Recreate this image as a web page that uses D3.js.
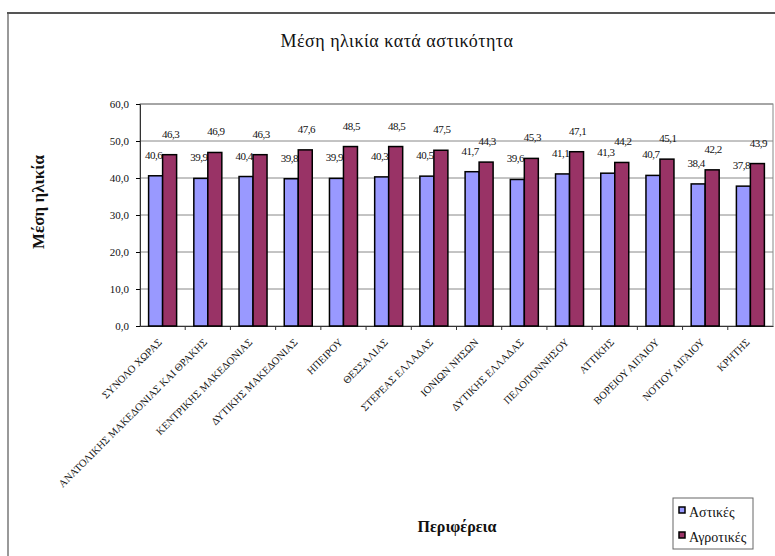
<!DOCTYPE html>
<html>
<head>
<meta charset="utf-8">
<script src="https://cdn.jsdelivr.net/npm/d3@7"></script>
<style>
  body { margin: 0; background: #fff; }
  svg text { font-family: 'Liberation Serif', 'Times New Roman', serif; fill: #111; }
</style>
</head>
<body>
<div id="chart"></div>
<script>
// regions (x axis)
var regions = ['ΣΥΝΟΛΟ ΧΩΡΑΣ', 'ΑΝΑΤΟΛΙΚΗΣ ΜΑΚΕΔΟΝΙΑΣ ΚΑΙ ΘΡΑΚΗΣ', 'ΚΕΝΤΡΙΚΗΣ ΜΑΚΕΔΟΝΙΑΣ',
  'ΔΥΤΙΚΗΣ ΜΑΚΕΔΟΝΙΑΣ', 'ΗΠΕΙΡΟΥ', 'ΘΕΣΣΑΛΙΑΣ', 'ΣΤΕΡΕΑΣ ΕΛΛΑΔΑΣ', 'ΙΟΝΙΩΝ ΝΗΣΩΝ',
  'ΔΥΤΙΚΗΣ ΕΛΛΑΔΑΣ', 'ΠΕΛΟΠΟΝΝΗΣΟΥ', 'ΑΤΤΙΚΗΣ', 'ΒΟΡΕΙΟΥ ΑΙΓΑΙΟΥ', 'ΝΟΤΙΟΥ ΑΙΓΑΙΟΥ', 'ΚΡΗΤΗΣ'];
var urban = [40.6, 39.9, 40.4, 39.8, 39.9, 40.3, 40.5, 41.7, 39.6, 41.1, 41.3, 40.7, 38.4, 37.8];
var rural = [46.3, 46.9, 46.3, 47.6, 48.5, 48.5, 47.5, 44.3, 45.3, 47.1, 44.2, 45.1, 42.2, 43.9];
var seriesNames = ['Αστικές', 'Αγροτικές'];
var yTicks = [0, 10, 20, 30, 40, 50, 60];

var colors = ['#9999ff', '#993366'];
var width = 775, height = 556;
var plotL = 140, plotR = 773, plotT = 104, plotB = 326;

var svg = d3.select('#chart').append('svg')
    .attr('width', width)
    .attr('height', height);

// outer frame: light left edge, darker top edge
svg.append('line')
    .attr('x1', 8).attr('x2', 8).attr('y1', 13).attr('y2', height)
    .attr('stroke', '#999').attr('stroke-width', 2);
svg.append('line')
    .attr('x1', 7).attr('x2', width).attr('y1', 13).attr('y2', 13)
    .attr('stroke', '#555').attr('stroke-width', 2);

var x = d3.scaleBand().domain(regions).range([plotL, plotR]);
var y = d3.scaleLinear().domain([0, 60]).range([plotB, plotT]);
var fmt = function(v) { return d3.format('.1f')(v).replace('.', ','); };

// gridlines
svg.append('g').selectAll('line')
    .data(yTicks.slice(1))
    .join('line')
    .attr('x1', plotL).attr('x2', plotR)
    .attr('y1', d => y(d)).attr('y2', d => y(d))
    .attr('stroke', '#888')
    .attr('stroke-width', 1);

// plot border
svg.append('rect')
    .attr('x', plotL).attr('y', plotT)
    .attr('width', plotR - plotL).attr('height', plotB - plotT)
    .attr('fill', 'none')
    .attr('stroke', '#888');

var yAxis = svg.append('g')
    .attr('transform', `translate(${plotL},0)`)
    .call(d3.axisLeft(y).tickValues(yTicks).tickFormat(fmt).tickSize(4).tickPadding(7));
yAxis.attr('font-family', null);
yAxis.select('.domain').attr('stroke', '#333');
yAxis.selectAll('text').style('font-size', '11px').attr('fill', '#222');

var xAxis = svg.append('g')
    .attr('transform', `translate(0,${plotB})`)
    .call(d3.axisBottom(x).tickSize(0).tickFormat(''));
xAxis.select('.domain').attr('stroke', '#333');

// category separator ticks
svg.append('g').selectAll('line')
    .data(regions.slice(1))
    .join('line')
    .attr('x1', d => x(d)).attr('x2', d => x(d))
    .attr('y1', plotB).attr('y2', plotB + 4)
    .attr('stroke', '#333');

var barW = 14;
var groups = svg.append('g').selectAll('g')
    .data(regions)
    .join('g')
    .attr('transform', d => `translate(${x(d) + x.bandwidth() / 2},0)`);

[urban, rural].forEach(function(series, s) {
  groups.append('rect')
      .attr('x', s === 0 ? -barW : 0)
      .attr('y', (d, i) => y(series[i]))
      .attr('width', barW)
      .attr('height', (d, i) => plotB - y(series[i]))
      .attr('fill', colors[s])
      .attr('stroke', '#000')
      .attr('stroke-width', 1.5);

  groups.append('text')
      .attr('x', s === 0 ? -barW / 2 - 2 : barW / 2 + 1)
      .attr('y', (d, i) => y(series[i]) - 17)
      .attr('text-anchor', 'middle')
      .style('font-size', '11px')
      .style('letter-spacing', '-0.5px')
      .text((d, i) => fmt(series[i]));
});

// rotated category labels
svg.append('g').selectAll('text')
    .data(regions)
    .join('text')
    .attr('transform', d => `translate(${x(d) + x.bandwidth() / 2},${plotB + 17}) rotate(-45)`)
    .attr('text-anchor', 'end')
    .style('font-size', '10.5px')
    .attr('fill', '#333')
    .text(d => d);

// titles
svg.append('text')
    .attr('x', 397).attr('y', 47)
    .attr('text-anchor', 'middle')
    .style('font-size', '18px')
    .style('letter-spacing', '0.5px')
    .text('Μέση ηλικία κατά αστικότητα');

svg.append('text')
    .attr('transform', 'translate(44,202) rotate(-90)')
    .attr('text-anchor', 'middle')
    .style('font-size', '17px')
    .style('font-weight', 'bold')
    .text('Μέση ηλικία');

svg.append('text')
    .attr('x', 457).attr('y', 532)
    .attr('text-anchor', 'middle')
    .style('font-size', '16px')
    .style('font-weight', 'bold')
    .text('Περιφέρεια');

// legend
var legend = svg.append('g').attr('transform', 'translate(673,498)');
legend.append('rect')
    .attr('width', 80).attr('height', 51)
    .attr('fill', '#fff')
    .attr('stroke', '#666');
seriesNames.forEach(function(name, i) {
  legend.append('rect')
      .attr('x', 6).attr('y', 9 + i * 25)
      .attr('width', 6).attr('height', 6)
      .attr('fill', colors[i])
      .attr('stroke', '#000')
      .attr('stroke-width', 1.5);
  legend.append('text')
      .attr('x', 16).attr('y', 19 + i * 25)
      .style('font-size', '14px')
      .text(name);
});
</script>
</body>
</html>
